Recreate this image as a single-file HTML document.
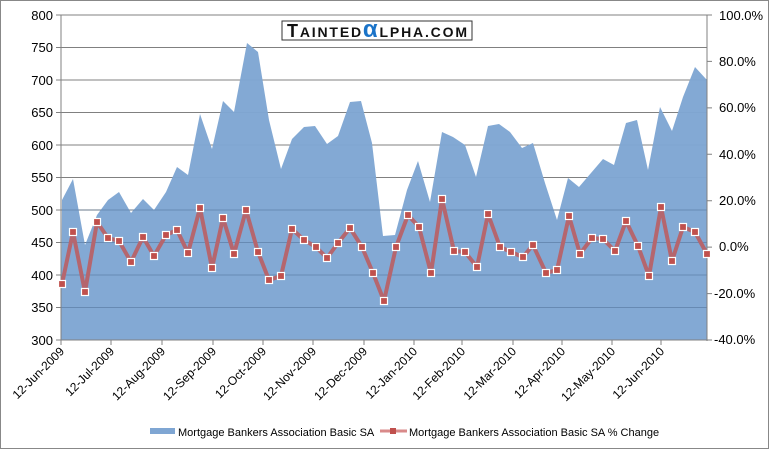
<!DOCTYPE html>
<html><head><meta charset="utf-8"><style>
html,body{margin:0;padding:0;background:#fff}
svg{display:block;font-family:"Liberation Sans",sans-serif}
</style></head><body>
<svg width="769" height="450" xmlns="http://www.w3.org/2000/svg">
<rect x="0.5" y="0.5" width="768" height="448" fill="#fff" stroke="#888"/>
<g stroke="#808080" stroke-width="1">
<line x1="61" y1="15" x2="707" y2="15"/><line x1="61" y1="47.5" x2="707" y2="47.5"/><line x1="61" y1="80" x2="707" y2="80"/><line x1="61" y1="112.5" x2="707" y2="112.5"/><line x1="61" y1="145" x2="707" y2="145"/><line x1="61" y1="177.5" x2="707" y2="177.5"/><line x1="61" y1="210" x2="707" y2="210"/><line x1="61" y1="242.5" x2="707" y2="242.5"/><line x1="61" y1="275" x2="707" y2="275"/><line x1="61" y1="307.5" x2="707" y2="307.5"/>
</g>
<polygon fill="#7fa6d3" fill-opacity="0.97" points="61,340 62,200 73,179 85,245 97,215 108,200 119,192 131,213 143,199 154,210 166,192 177,167 188,175 200,114 212,149 223,101 234,112 247,43 258,52 269,120 281,169 292,139 304,127 315,126 327,144 338,136 350,102 361,101 372,143 383,236 395,235 407,190 418,161 430,202 442,132 453,137 465,145 476,177 488,126 499,124 510,132 522,148 533,143 545,183 557,220 568,178 579,187 591,173 603,159 614,165 626,123 637,120 648,170 660,107 672,131 683,97 695,67 706,79 707,79 707,340"/>
<g stroke="#4f6f96" stroke-opacity="0.5" stroke-width="1">
<line x1="61" y1="210" x2="707" y2="210"/><line x1="61" y1="242.5" x2="707" y2="242.5"/><line x1="61" y1="275" x2="707" y2="275"/><line x1="61" y1="307.5" x2="707" y2="307.5"/>
</g>
<g stroke="#808080" fill="none">
<line x1="61" y1="15" x2="61" y2="341"/><line x1="707" y1="15" x2="707" y2="341"/>
<line x1="56" y1="340" x2="712" y2="340"/>
<path d="M56 15H61M56 47.5H61M56 80H61M56 112.5H61M56 145H61M56 177.5H61M56 210H61M56 242.5H61M56 275H61M56 307.5H61M56 340H61"/>
<path d="M707 15H712M707 61.4H712M707 107.9H712M707 154.3H712M707 200.7H712M707 247.1H712M707 293.6H712M707 340H712"/>
<path d="M61 340V345M111 340V345M162 340V345M213 340V345M263 340V345M313 340V345M364 340V345M414 340V345M462 340V345M513 340V345M562 340V345M612 340V345M661 340V345"/>
</g>
<polyline fill="none" stroke="#b5666e" stroke-width="4" stroke-linejoin="round" points="62,284 73,232 85,292 97,222 108,238 119,241 131,262 143,237 154,256 166,235 177,230 188,253 200,208 212,268 223,218 234,254 246,210 258,252 269,280 281,276 292,229 304,240 316,247 327,258 338,243 350,228 362,247 373,273 384,301 396,247 408,215 419,227 431,273 442,199 454,251 465,252 477,267 488,214 500,247 511,252 523,257 533,245 546,273 557,270 569,216 580,254 592,238 603,239 615,251 626,221 638,246 649,276 661,207 672,261 683,227 695,232 707,254"/>
<g fill="#c0504d" stroke="#fff" stroke-width="1.2">
<rect x="58.5" y="280.5" width="7" height="7"/><rect x="69.5" y="228.5" width="7" height="7"/><rect x="81.5" y="288.5" width="7" height="7"/><rect x="93.5" y="218.5" width="7" height="7"/><rect x="104.5" y="234.5" width="7" height="7"/><rect x="115.5" y="237.5" width="7" height="7"/><rect x="127.5" y="258.5" width="7" height="7"/><rect x="139.5" y="233.5" width="7" height="7"/><rect x="150.5" y="252.5" width="7" height="7"/><rect x="162.5" y="231.5" width="7" height="7"/><rect x="173.5" y="226.5" width="7" height="7"/><rect x="184.5" y="249.5" width="7" height="7"/><rect x="196.5" y="204.5" width="7" height="7"/><rect x="208.5" y="264.5" width="7" height="7"/><rect x="219.5" y="214.5" width="7" height="7"/><rect x="230.5" y="250.5" width="7" height="7"/><rect x="242.5" y="206.5" width="7" height="7"/><rect x="254.5" y="248.5" width="7" height="7"/><rect x="265.5" y="276.5" width="7" height="7"/><rect x="277.5" y="272.5" width="7" height="7"/><rect x="288.5" y="225.5" width="7" height="7"/><rect x="300.5" y="236.5" width="7" height="7"/><rect x="312.5" y="243.5" width="7" height="7"/><rect x="323.5" y="254.5" width="7" height="7"/><rect x="334.5" y="239.5" width="7" height="7"/><rect x="346.5" y="224.5" width="7" height="7"/><rect x="358.5" y="243.5" width="7" height="7"/><rect x="369.5" y="269.5" width="7" height="7"/><rect x="380.5" y="297.5" width="7" height="7"/><rect x="392.5" y="243.5" width="7" height="7"/><rect x="404.5" y="211.5" width="7" height="7"/><rect x="415.5" y="223.5" width="7" height="7"/><rect x="427.5" y="269.5" width="7" height="7"/><rect x="438.5" y="195.5" width="7" height="7"/><rect x="450.5" y="247.5" width="7" height="7"/><rect x="461.5" y="248.5" width="7" height="7"/><rect x="473.5" y="263.5" width="7" height="7"/><rect x="484.5" y="210.5" width="7" height="7"/><rect x="496.5" y="243.5" width="7" height="7"/><rect x="507.5" y="248.5" width="7" height="7"/><rect x="519.5" y="253.5" width="7" height="7"/><rect x="529.5" y="241.5" width="7" height="7"/><rect x="542.5" y="269.5" width="7" height="7"/><rect x="553.5" y="266.5" width="7" height="7"/><rect x="565.5" y="212.5" width="7" height="7"/><rect x="576.5" y="250.5" width="7" height="7"/><rect x="588.5" y="234.5" width="7" height="7"/><rect x="599.5" y="235.5" width="7" height="7"/><rect x="611.5" y="247.5" width="7" height="7"/><rect x="622.5" y="217.5" width="7" height="7"/><rect x="634.5" y="242.5" width="7" height="7"/><rect x="645.5" y="272.5" width="7" height="7"/><rect x="657.5" y="203.5" width="7" height="7"/><rect x="668.5" y="257.5" width="7" height="7"/><rect x="679.5" y="223.5" width="7" height="7"/><rect x="691.5" y="228.5" width="7" height="7"/><rect x="703.5" y="250.5" width="7" height="7"/>
</g>
<g font-size="13" fill="#000" text-anchor="end">
<text x="53" y="20">800</text><text x="53" y="52">750</text><text x="53" y="85">700</text><text x="53" y="117">650</text><text x="53" y="150">600</text><text x="53" y="182">550</text><text x="53" y="215">500</text><text x="53" y="247">450</text><text x="53" y="280">400</text><text x="53" y="312">350</text><text x="53" y="345">300</text>
</g>
<g font-size="13" fill="#000">
<text x="719" y="20">100.0%</text><text x="719" y="66">80.0%</text><text x="719" y="112">60.0%</text><text x="719" y="159">40.0%</text><text x="719" y="205">20.0%</text><text x="719" y="251">0.0%</text><text x="714" y="298">-20.0%</text><text x="714" y="344">-40.0%</text>
</g>
<g font-size="12" fill="#000" text-anchor="end">
<text transform="translate(65,352) rotate(-45)">12-Jun-2009</text>
<text transform="translate(115,352) rotate(-45)">12-Jul-2009</text>
<text transform="translate(166,352) rotate(-45)">12-Aug-2009</text>
<text transform="translate(217,352) rotate(-45)">12-Sep-2009</text>
<text transform="translate(267,352) rotate(-45)">12-Oct-2009</text>
<text transform="translate(317,352) rotate(-45)">12-Nov-2009</text>
<text transform="translate(368,352) rotate(-45)">12-Dec-2009</text>
<text transform="translate(418,352) rotate(-45)">12-Jan-2010</text>
<text transform="translate(466,352) rotate(-45)">12-Feb-2010</text>
<text transform="translate(517,352) rotate(-45)">12-Mar-2010</text>
<text transform="translate(566,352) rotate(-45)">12-Apr-2010</text>
<text transform="translate(616,352) rotate(-45)">12-May-2010</text>
<text transform="translate(665,352) rotate(-45)">12-Jun-2010</text>
</g>
<rect x="150" y="428" width="25" height="6" fill="#7fa6d3"/>
<text x="178" y="436" font-size="11" fill="#000">Mortgage Bankers Association Basic SA</text>
<line x1="380" y1="431" x2="407" y2="431" stroke="#d98a8a" stroke-width="3"/>
<rect x="390" y="428" width="6" height="6" fill="#c0504d"/>
<text x="409" y="436" font-size="11" fill="#000">Mortgage Bankers Association Basic SA % Change</text>
<rect x="282" y="21" width="190" height="19" fill="#fff" stroke="#333"/>
<text x="287" y="37" font-size="18" font-weight="bold" fill="#111" textLength="180" lengthAdjust="spacing">T<tspan font-size="14">AINTED</tspan><tspan fill="#1a73c8" font-size="24" font-weight="bold">α</tspan><tspan font-size="14">LPHA.COM</tspan></text>
</svg>
</body></html>
